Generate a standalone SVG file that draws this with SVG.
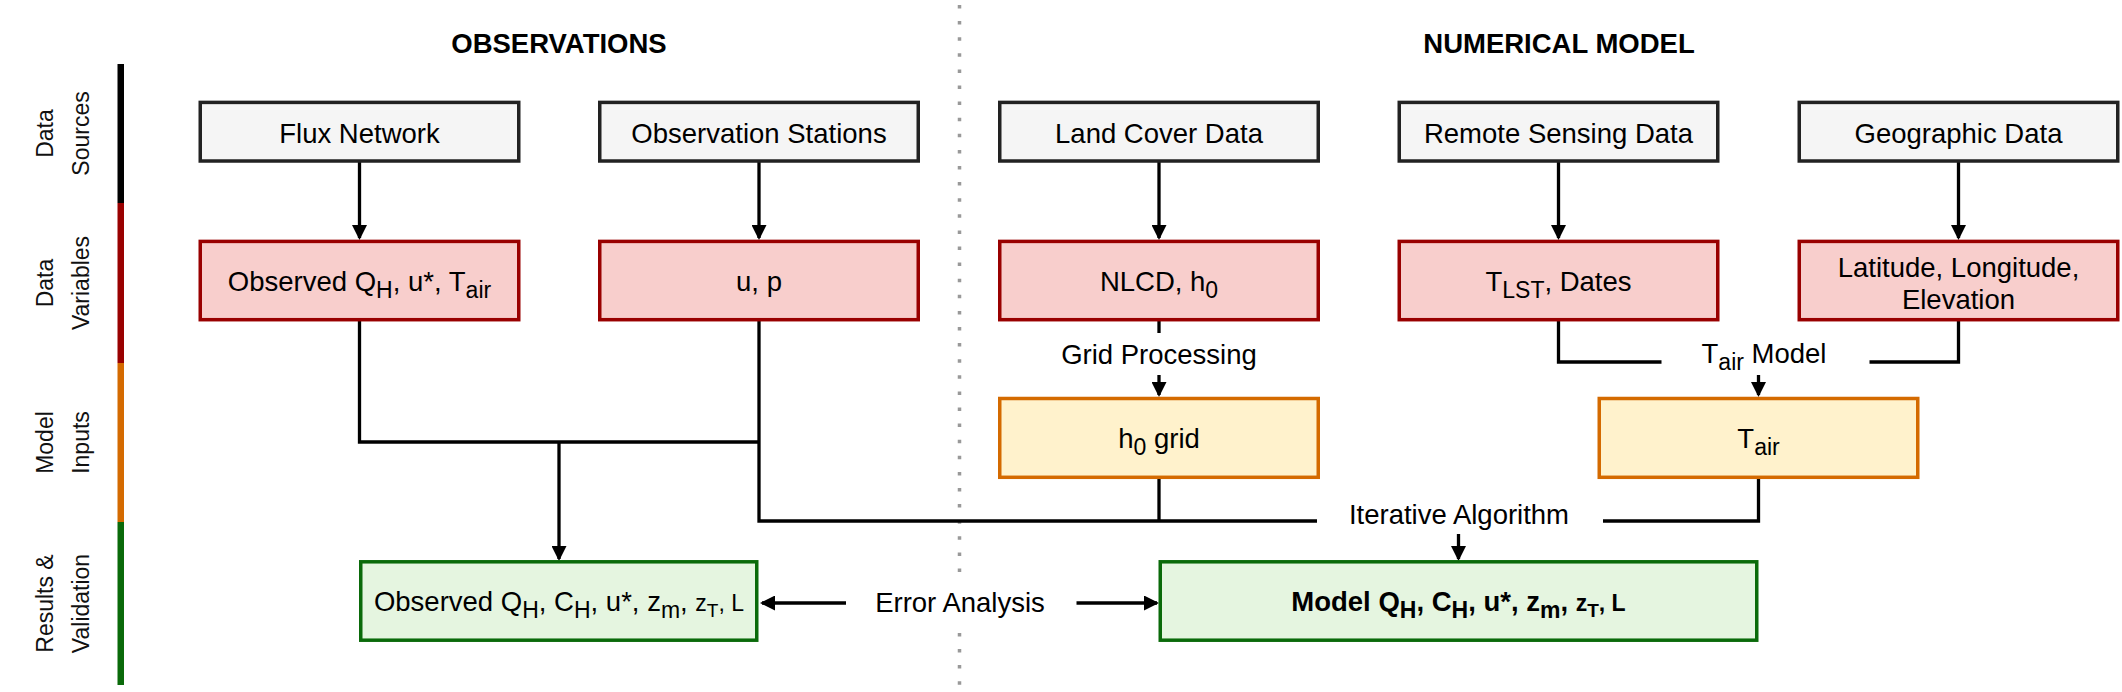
<svg xmlns="http://www.w3.org/2000/svg" width="2122" height="692" viewBox="0 0 2122 692">
<defs>
<style>
.t{font-family:"Liberation Sans",Arial,Helvetica,sans-serif;font-size:27.5px;fill:#000;text-anchor:middle}
.s{font-size:23px}
.sm{font-size:23px}
.ss{font-size:19px}
.b{font-weight:bold}
.h{font-weight:bold;font-size:27.5px}
.ax{font-family:"Liberation Sans",Arial,Helvetica,sans-serif;font-size:23px;fill:#111;text-anchor:middle}
.src{fill:#f5f5f5;stroke:#222;stroke-width:3.5}
.var{fill:#f8cecc;stroke:#990000;stroke-width:3.5}
.inp{fill:#fff2cc;stroke:#d46a00;stroke-width:3.5}
.res{fill:#e5f5e0;stroke:#0a6a0a;stroke-width:3.5}
.c{fill:none;stroke:#000;stroke-width:3.3}
</style>
<marker id="ah" markerUnits="userSpaceOnUse" viewBox="0 0 15 15" markerWidth="15" markerHeight="15" refX="13" refY="7.5" orient="auto">
<path d="M0,0 L15,7.5 L0,15 z" fill="#000"/>
</marker>
</defs>
<rect width="2122" height="692" fill="#fff"/>

<!-- divider -->
<line x1="959.5" y1="5" x2="959.5" y2="686" stroke="#999" stroke-width="3.5" stroke-dasharray="3.5 12.6"/>

<!-- headers -->
<text class="t h" x="559" y="53">OBSERVATIONS</text>
<text class="t h" x="1559" y="53">NUMERICAL MODEL</text>

<!-- stage axis -->
<g id="axis">
<rect x="117.5" y="64" width="6.5" height="139" fill="#000"/>
<rect x="117.5" y="203" width="6.5" height="160" fill="#990000"/>
<rect x="117.5" y="363" width="6.5" height="159" fill="#d46a00"/>
<rect x="117.5" y="522" width="6.5" height="163" fill="#0a6a0a"/>
<text class="ax" transform="translate(53,133.5) rotate(-90)">Data</text>
<text class="ax" transform="translate(89,133.5) rotate(-90)">Sources</text>
<text class="ax" transform="translate(53,283) rotate(-90)">Data</text>
<text class="ax" transform="translate(89,283) rotate(-90)">Variables</text>
<text class="ax" transform="translate(53,442.5) rotate(-90)">Model</text>
<text class="ax" transform="translate(89,442.5) rotate(-90)">Inputs</text>
<text class="ax" transform="translate(53,603.5) rotate(-90)">Results &amp;</text>
<text class="ax" transform="translate(89,603.5) rotate(-90)">Validation</text>
</g>

<!-- connectors -->
<g id="connectors">
<path class="c" d="M359.5,161 V238" marker-end="url(#ah)"/>
<path class="c" d="M759,161 V238" marker-end="url(#ah)"/>
<path class="c" d="M1159,161 V238" marker-end="url(#ah)"/>
<path class="c" d="M1558.5,161 V238" marker-end="url(#ah)"/>
<path class="c" d="M1958.5,161 V238" marker-end="url(#ah)"/>
<path class="c" d="M359.5,320 V442 H759"/>
<path class="c" d="M759,320 V521 H1317"/>
<path class="c" d="M559,442 V559" marker-end="url(#ah)"/>
<path class="c" d="M1159,320 V333"/>
<path class="c" d="M1159,375 V395" marker-end="url(#ah)"/>
<path class="c" d="M1159,477 V521"/>
<path class="c" d="M1603,521 H1758.5 V477"/>
<path class="c" d="M1458.5,534 V559" marker-end="url(#ah)"/>
<path class="c" d="M1558.5,320 V362 H1661.5"/>
<path class="c" d="M1958.5,320 V362 H1869.5"/>
<path class="c" d="M1758.5,375 V395" marker-end="url(#ah)"/>
<path class="c" d="M846,603 H762" marker-end="url(#ah)"/>
<path class="c" d="M1076.5,603 H1157" marker-end="url(#ah)"/>
<text class="t" x="1159" y="364">Grid Processing</text>
<text class="t" x="1764" y="363">T<tspan class="s" dy="7">air</tspan><tspan dy="-7"> Model</tspan></text>
<text class="t" x="1459" y="524">Iterative Algorithm</text>
<rect x="864" y="574" width="192" height="58" fill="#fff"/>
<text class="t" x="960" y="612">Error Analysis</text>
</g>

<!-- data sources -->
<g id="flux-network"><rect class="src" x="200.25" y="102.4" width="318.5" height="58.6"/><text class="t" x="359.5" y="143">Flux Network</text></g>
<g id="observation-stations"><rect class="src" x="599.75" y="102.4" width="318.5" height="58.6"/><text class="t" x="759" y="143">Observation Stations</text></g>
<g id="land-cover-data"><rect class="src" x="999.75" y="102.4" width="318.5" height="58.6"/><text class="t" x="1159" y="143">Land Cover Data</text></g>
<g id="remote-sensing-data"><rect class="src" x="1399.25" y="102.4" width="318.5" height="58.6"/><text class="t" x="1558.5" y="143">Remote Sensing Data</text></g>
<g id="geographic-data"><rect class="src" x="1799.25" y="102.4" width="318.5" height="58.6"/><text class="t" x="1958.5" y="143">Geographic Data</text></g>

<!-- data variables -->
<g id="observed-vars"><rect class="var" x="200.25" y="241.4" width="318.5" height="78.3"/><text class="t" x="359.5" y="290.5">Observed Q<tspan class="s" dy="7">H</tspan><tspan dy="-7">, u*, T</tspan><tspan class="s" dy="7">air</tspan></text></g>
<g id="u-p"><rect class="var" x="599.75" y="241.4" width="318.5" height="78.3"/><text class="t" x="759" y="290.5">u, p</text></g>
<g id="nlcd-h0"><rect class="var" x="999.75" y="241.4" width="318.5" height="78.3"/><text class="t" x="1159" y="290.5">NLCD, h<tspan class="s" dy="7">0</tspan></text></g>
<g id="tlst-dates"><rect class="var" x="1399.25" y="241.4" width="318.5" height="78.3"/><text class="t" x="1558.5" y="290.5">T<tspan class="s" dy="7">LST</tspan><tspan dy="-7">, Dates</tspan></text></g>
<g id="lat-lon-elev"><rect class="var" x="1799.25" y="241.4" width="318.5" height="78.3"/><text class="t" x="1958.5" y="277.3">Latitude, Longitude,</text><text class="t" x="1958.5" y="309">Elevation</text></g>

<!-- model inputs -->
<g id="h0-grid"><rect class="inp" x="999.75" y="398.5" width="318.5" height="78.8"/><text class="t" x="1159" y="448">h<tspan class="s" dy="7">0</tspan><tspan dy="-7"> grid</tspan></text></g>
<g id="tair"><rect class="inp" x="1599.25" y="398.5" width="318.5" height="78.8"/><text class="t" x="1758.5" y="448">T<tspan class="s" dy="7">air</tspan></text></g>

<!-- results -->
<g id="observed-results"><rect class="res" x="360.75" y="561.8" width="396" height="78.4"/><text class="t" x="559" y="611">Observed Q<tspan class="s" dy="7">H</tspan><tspan dy="-7">, C</tspan><tspan class="s" dy="7">H</tspan><tspan dy="-7">, u*, z</tspan><tspan class="s" dy="7">m</tspan><tspan dy="-7">, </tspan><tspan class="sm">z</tspan><tspan class="ss" dy="6">T</tspan><tspan class="sm" dy="-6">, L</tspan></text></g>
<g id="model-results"><rect class="res" x="1160.25" y="561.8" width="596.5" height="78.4"/><text class="t b" x="1458.5" y="611">Model Q<tspan class="s" dy="7">H</tspan><tspan dy="-7">, C</tspan><tspan class="s" dy="7">H</tspan><tspan dy="-7">, u*, z</tspan><tspan class="s" dy="7">m</tspan><tspan dy="-7">, </tspan><tspan class="sm">z</tspan><tspan class="ss" dy="6">T</tspan><tspan class="sm" dy="-6">, L</tspan></text></g>
</svg>
